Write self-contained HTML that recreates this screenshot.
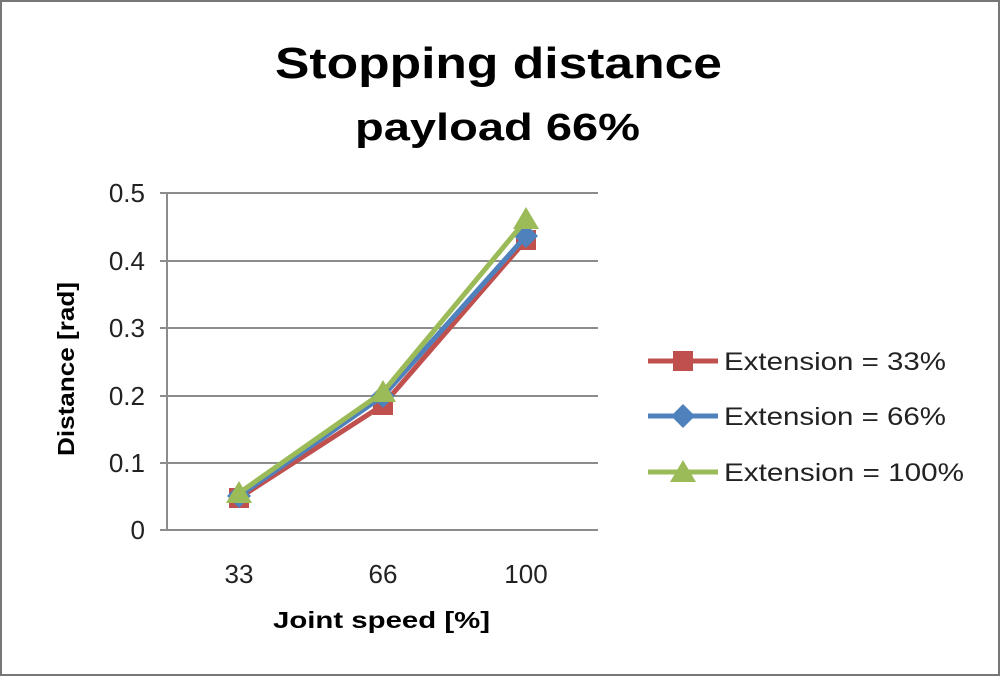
<!DOCTYPE html>
<html><head><style>
body{margin:0;background:#fff}
svg{display:block;font-family:"Liberation Sans","DejaVu Sans",sans-serif}
</style></head><body>
<svg width="1000" height="676" viewBox="0 0 1000 676">
<rect x="1" y="1" width="998" height="674" fill="#fff" stroke="#777" stroke-width="2"/>
<text x="275" y="78" font-size="44" font-weight="bold" fill="#000" textLength="447" lengthAdjust="spacingAndGlyphs">Stopping distance</text>
<text x="355" y="140" font-size="38" font-weight="bold" fill="#000" textLength="285" lengthAdjust="spacingAndGlyphs">payload 66%</text>
<g stroke="#8c8c8c" stroke-width="2">
<line x1="160" y1="193" x2="598" y2="193"/>
<line x1="160" y1="261" x2="598" y2="261"/>
<line x1="160" y1="328" x2="598" y2="328"/>
<line x1="160" y1="396" x2="598" y2="396"/>
<line x1="160" y1="463" x2="598" y2="463"/>
<line x1="160" y1="530" x2="598" y2="530"/>
<line x1="167" y1="193" x2="167" y2="530"/>
</g>
<g font-size="26" fill="#222" text-anchor="end">
<text x="145" y="202">0.5</text><text x="145" y="270">0.4</text><text x="145" y="337">0.3</text>
<text x="145" y="405">0.2</text><text x="145" y="472">0.1</text><text x="145" y="539">0</text>
</g>
<g font-size="26" fill="#222" text-anchor="middle">
<text x="239" y="583">33</text><text x="383" y="583">66</text><text x="526" y="583">100</text>
</g>
<text x="273" y="628" font-size="23" font-weight="bold" textLength="217" lengthAdjust="spacingAndGlyphs">Joint speed [%]</text>
<text transform="translate(74,456) rotate(-90)" font-size="23" font-weight="bold" textLength="174" lengthAdjust="spacingAndGlyphs">Distance [rad]</text>
<polyline points="239,498 383,405 526,240" fill="none" stroke="#c0504d" stroke-width="5"/>
<g fill="#c0504d"><rect x="229" y="488" width="20" height="20"/><rect x="373" y="395" width="20" height="20"/><rect x="516" y="230" width="20" height="20"/></g>
<polyline points="239,496 383,396 526,236" fill="none" stroke="#4f81bd" stroke-width="5"/>
<g fill="#4f81bd"><polygon points="239,484 251,496 239,508 227,496"/><polygon points="383,384 395,396 383,408 371,396"/><polygon points="526,224 538,236 526,248 514,236"/></g>
<polyline points="239,493 383,392 526,220" fill="none" stroke="#9bbb59" stroke-width="5"/>
<g fill="#9bbb59"><polygon points="239,481 252,503 226,503"/><polygon points="383,380 396,402 370,402"/><polygon points="526,207 539,229 513,229"/></g>
<line x1="648" y1="361" x2="718" y2="361" stroke="#c0504d" stroke-width="5"/><rect x="673" y="351" width="20" height="20" fill="#c0504d"/>
<line x1="648" y1="416" x2="718" y2="416" stroke="#4f81bd" stroke-width="5"/><polygon points="683,404 695,416 683,428 671,416" fill="#4f81bd"/>
<line x1="648" y1="472" x2="718" y2="472" stroke="#9bbb59" stroke-width="5"/><polygon points="683,460 696,482 670,482" fill="#9bbb59"/>
<g font-size="25" fill="#222">
<text x="724" y="370" textLength="222" lengthAdjust="spacingAndGlyphs">Extension = 33%</text>
<text x="724" y="425" textLength="222" lengthAdjust="spacingAndGlyphs">Extension = 66%</text>
<text x="724" y="481" textLength="240" lengthAdjust="spacingAndGlyphs">Extension = 100%</text>
</g>
</svg>
</body></html>
